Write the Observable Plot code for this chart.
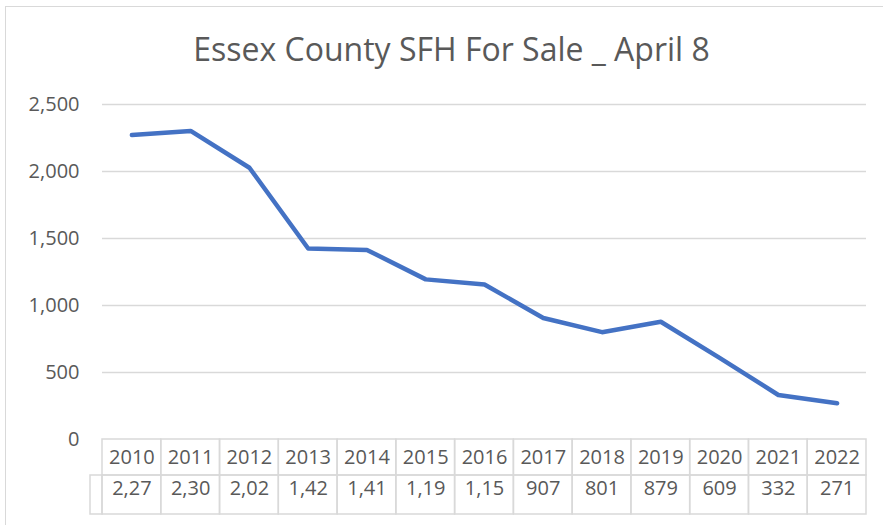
<!DOCTYPE html>
<html>
<head>
<meta charset="utf-8">
<script src="https://cdn.jsdelivr.net/npm/d3@7"></script>
<script src="https://cdn.jsdelivr.net/npm/@observablehq/plot@0.6"></script>
<style>
  html, body { margin: 0; padding: 0; background: #fff; width: 883px; height: 525px; overflow: hidden; }
  #frame { position: absolute; left: 5px; top: 6px; width: 900px; height: 540px; border: 1px solid #d9d9d9; box-sizing: border-box; }
  #title { position: absolute; left: 10px; top: 33px; width: 883px; text-align: center; font-family: "Open Sans", sans-serif; font-size: 32px; line-height: 32px; color: #595959; white-space: nowrap; }
  #chart { position: absolute; left: 0; top: 80px; }
</style>
</head>
<body>
<div id="frame"></div>
<div id="title">Essex County SFH For Sale _ April 8</div>
<div id="chart"></div>
<script>
const years = [2010, 2011, 2012, 2013, 2014, 2015, 2016, 2017, 2018, 2019, 2020, 2021, 2022];
const forSale = [2272, 2303, 2028, 1425, 1415, 1195, 1157, 907, 801, 879, 609, 332, 271];
const tableLabels = ["2,27", "2,30", "2,02", "1,42", "1,41", "1,19", "1,15", "907", "801", "879", "609", "332", "271"];
const yTicks = [0, 500, 1000, 1500, 2000, 2500];

const data = years.map((year, i) => ({year, value: forSale[i], label: tableLabels[i]}));
const gridColor = "#d9d9d9";
const textColor = "#595959";
const comma = d3.format(",");

const chart = Plot.plot({
  width: 883,
  height: 445,
  marginTop: 24,
  marginBottom: 86,
  marginLeft: 102,
  marginRight: 17,
  style: {fontFamily: '"Open Sans", sans-serif', fontSize: "20px", color: textColor, background: "transparent", overflow: "visible"},
  x: {domain: [years[0] - 0.5, years[years.length - 1] + 0.5], axis: null},
  y: {domain: [0, 2500], ticks: yTicks, tickFormat: d => comma(d), tickSize: 0, tickPadding: 23, label: null},
  marks: [
    Plot.ruleY(yTicks.filter(t => t > 0), {stroke: gridColor, strokeWidth: 1.5}),
    // header row cells
    Plot.rect(data, {x1: d => d.year - 0.5, x2: d => d.year + 0.5, y1: 0, y2: 0, insetBottom: -36, stroke: gridColor, strokeWidth: 1.5, fill: "none"}),
    // value row cells
    Plot.rect(data, {x1: d => d.year - 0.5, x2: d => d.year + 0.5, y1: 0, y2: 0, insetTop: 36, insetBottom: -75, stroke: gridColor, strokeWidth: 1.5, fill: "none"}),
    // empty legend-key cell left of value row
    Plot.rect(data.slice(0, 1), {x1: d => d.year - 0.5, x2: d => d.year - 0.5, y1: 0, y2: 0, insetLeft: -12, insetTop: 36, insetBottom: -75, stroke: gridColor, strokeWidth: 1.5, fill: "none"}),
    Plot.text(data, {x: "year", y: 0, text: d => String(d.year), dy: 18, fill: textColor}),
    Plot.text(data, {x: "year", y: 0, text: "label", dy: 49, fill: textColor}),
    Plot.line(data, {x: "year", y: "value", stroke: "#4472C4", strokeWidth: 4.5, strokeLinejoin: "round", strokeLinecap: "round"})
  ]
});
document.getElementById("chart").appendChild(chart);
</script>
</body>
</html>
